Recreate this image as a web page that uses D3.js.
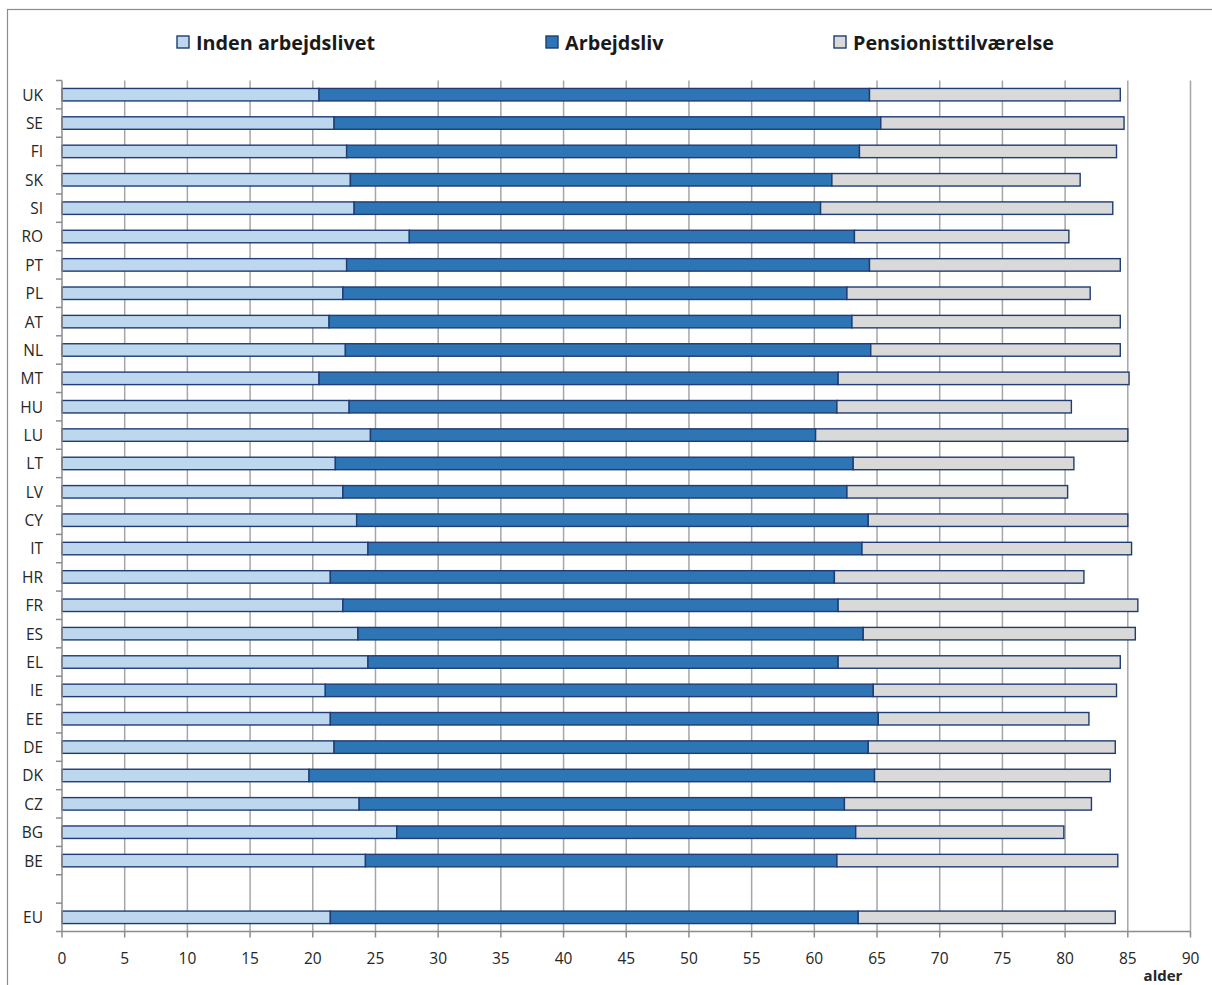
<!DOCTYPE html>
<html>
<head>
<meta charset="utf-8">
<script src="https://cdn.jsdelivr.net/npm/d3@7"></script>
<style>
  html, body { margin: 0; padding: 0; background: #fff; }
  svg { display: block; font-family: "Open Sans", "Noto Sans", sans-serif; }
</style>
</head>
<body>
<svg id="chart" width="1212" height="985"></svg>
<script>
// ---- data ----
const categories = ["UK","SE","FI","SK","SI","RO","PT","PL","AT","NL","MT","HU","LU","LT","LV","CY","IT","HR","FR","ES","EL","IE","EE","DE","DK","CZ","BG","BE","","EU"];
const seriesNames = ["Inden arbejdslivet","Arbejdsliv","Pensionisttilværelse"];
const indenArbejdslivet = [20.5,21.7,22.7,23.0,23.3,27.7,22.7,22.4,21.3,22.6,20.5,22.9,24.6,21.8,22.4,23.5,24.4,21.4,22.4,23.6,24.4,21.0,21.4,21.7,19.7,23.7,26.7,24.2,null,21.4];
const arbejdsliv        = [43.9,43.6,40.9,38.4,37.2,35.5,41.7,40.2,41.7,41.9,41.4,38.9,35.5,41.3,40.2,40.8,39.4,40.2,39.5,40.3,37.5,43.7,43.7,42.6,45.1,38.7,36.6,37.6,null,42.1];
const pension           = [20.0,19.4,20.5,19.8,23.3,17.1,20.0,19.4,21.4,19.9,23.2,18.7,24.9,17.6,17.6,20.7,21.5,19.9,23.9,21.7,22.5,19.4,16.8,19.7,18.8,19.7,16.6,22.4,null,20.5];
const xTicks = [0,5,10,15,20,25,30,35,40,45,50,55,60,65,70,75,80,85,90];
const xAxisLabel = "alder";
const colors = ["#bdd7ee","#2e75b6","#d9d9d9"];

// ---- layout ----
const svg = d3.select("#chart");
const plot = { left: 62, right: 1190.5, top: 80.5, bottom: 931.5 };

// outer frame
svg.append("rect").attr("x", 7.5).attr("y", 9.5).attr("width", 1300).attr("height", 1300)
  .attr("fill", "none").attr("stroke", "#8c8c8c").attr("stroke-width", 1.2);

const x = d3.scaleLinear().domain([0, 90]).range([plot.left, plot.right]);
const keys = categories.map((c, i) => c === "" ? "__blank" + i : c);
const y = d3.scaleBand().domain(keys).range([plot.top, plot.bottom]).paddingInner(0.56).paddingOuter(0.28);
const yb = d3.scaleBand().domain(keys).range([plot.top, plot.bottom]);

// gridlines
svg.append("g").selectAll("line").data(xTicks.filter(t => t > 0)).join("line")
  .attr("x1", d => x(d)).attr("x2", d => x(d))
  .attr("y1", plot.top).attr("y2", plot.bottom)
  .attr("stroke", "#a6a6a6").attr("stroke-width", 1.5);

// stacked data
const rows = categories.map((c, i) => ({
  key: keys[i], label: c,
  v0: indenArbejdslivet[i], v1: arbejdsliv[i], v2: pension[i]
})).filter(r => r.v0 != null);
const stack = d3.stack().keys(["v0","v1","v2"])(rows);

const gBars = svg.append("g");
stack.forEach((layer, li) => {
  gBars.append("g").selectAll("rect").data(layer).join("rect")
    .attr("x", d => x(d[0]))
    .attr("width", d => x(d[1]) - x(d[0]))
    .attr("y", d => y(d.data.key))
    .attr("height", y.bandwidth())
    .attr("fill", colors[li])
    .attr("stroke", "#1f3c73").attr("stroke-width", 1.4);
});

// y axis
const yAxis = svg.append("g").attr("transform", `translate(${plot.left},0)`);
yAxis.append("line").attr("x1", 0).attr("x2", 0).attr("y1", plot.top).attr("y2", plot.bottom)
  .attr("stroke", "#8c8c8c").attr("stroke-width", 1.5);
const bounds = keys.map(k => yb(k)).concat([plot.bottom]);
yAxis.selectAll("line.tick").data(bounds).join("line").attr("class", "tick")
  .attr("x1", -6).attr("x2", 0).attr("y1", d => d).attr("y2", d => d)
  .attr("stroke", "#8c8c8c").attr("stroke-width", 1.5);
yAxis.selectAll("text").data(categories.map((c, i) => ({ c, k: keys[i] })).filter(d => d.c !== "")).join("text")
  .attr("x", -19).attr("y", d => yb(d.k) + yb.bandwidth() / 2 + 0.5)
  .attr("dy", "0.35em").attr("text-anchor", "end")
  .attr("font-size", 15.5).attr("fill", "#262626").text(d => d.c);

// x axis
const xAxis = svg.append("g").attr("transform", `translate(0,${plot.bottom})`);
xAxis.append("line").attr("x1", plot.left).attr("x2", plot.right).attr("y1", 0).attr("y2", 0)
  .attr("stroke", "#8c8c8c").attr("stroke-width", 1.5);
xAxis.selectAll("line.tick").data(xTicks).join("line").attr("class", "tick")
  .attr("x1", d => x(d)).attr("x2", d => x(d)).attr("y1", 0).attr("y2", 6)
  .attr("stroke", "#8c8c8c").attr("stroke-width", 1.5);
xAxis.selectAll("text").data(xTicks).join("text")
  .attr("x", d => x(d)).attr("y", 27).attr("dy", "0.35em")
  .attr("text-anchor", "middle").attr("font-size", 15.5).attr("fill", "#262626")
  .text(d => d);
svg.append("text").attr("x", 1163).attr("y", 981).attr("text-anchor", "middle")
  .attr("font-size", 15).attr("font-weight", "bold").attr("fill", "#262626").text(xAxisLabel);

// legend
const legendX = [177, 546, 834];
const lg = svg.append("g");
seriesNames.forEach((name, i) => {
  lg.append("rect").attr("x", legendX[i]).attr("y", 36).attr("width", 12).attr("height", 12)
    .attr("fill", colors[i]).attr("stroke", "#1f3c73").attr("stroke-width", 1.4);
  lg.append("text").attr("x", legendX[i] + 19).attr("y", 49.5)
    .attr("font-size", 19.8).attr("font-weight", "bold").attr("fill", "#1a1a1a").text(name);
});
</script>
</body>
</html>
